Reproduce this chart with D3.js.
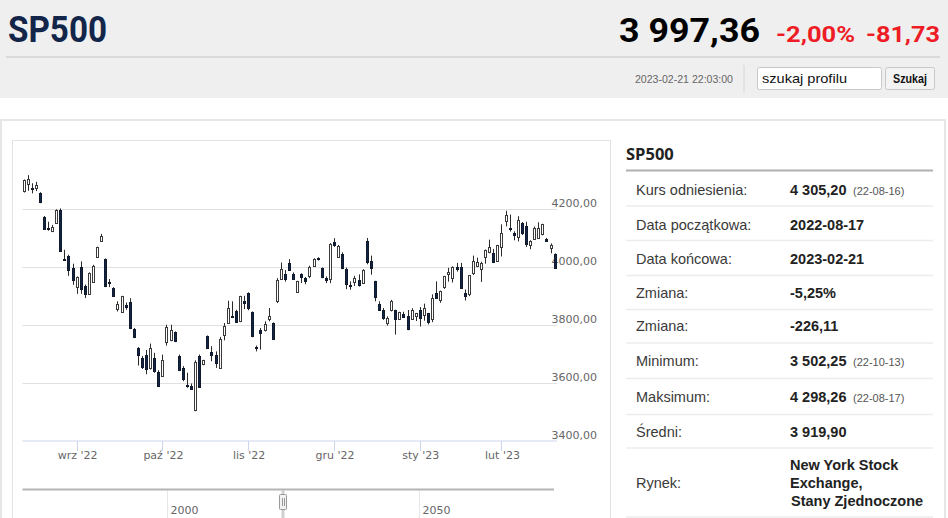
<!DOCTYPE html>
<html>
<head>
<meta charset="utf-8">
<title>SP500</title>
<script src="https://d3js.org/d3.v7.min.js"></script>
<style>
  html, body { margin: 0; padding: 0; background: #fff; overflow: hidden; }
  svg { display: block; }
</style>
</head>
<body>
<div id="page"></div>
<script>
// trading days shown in the main window
const dates = [
  '2022-08-15','2022-08-16','2022-08-17','2022-08-18','2022-08-19','2022-08-22','2022-08-23','2022-08-24','2022-08-25','2022-08-26',
  '2022-08-29','2022-08-30','2022-08-31','2022-09-01','2022-09-02','2022-09-06','2022-09-07','2022-09-08','2022-09-09','2022-09-12',
  '2022-09-13','2022-09-14','2022-09-15','2022-09-16','2022-09-19','2022-09-20','2022-09-21','2022-09-22','2022-09-23','2022-09-26',
  '2022-09-27','2022-09-28','2022-09-29','2022-09-30','2022-10-03','2022-10-04','2022-10-05','2022-10-06','2022-10-07','2022-10-10',
  '2022-10-11','2022-10-12','2022-10-13','2022-10-14','2022-10-17','2022-10-18','2022-10-19','2022-10-20','2022-10-21','2022-10-24',
  '2022-10-25','2022-10-26','2022-10-27','2022-10-28','2022-10-31','2022-11-01','2022-11-02','2022-11-03','2022-11-04','2022-11-07',
  '2022-11-08','2022-11-09','2022-11-10','2022-11-11','2022-11-14','2022-11-15','2022-11-16','2022-11-17','2022-11-18','2022-11-21',
  '2022-11-22','2022-11-23','2022-11-25','2022-11-28','2022-11-29','2022-11-30','2022-12-01','2022-12-02','2022-12-05','2022-12-06',
  '2022-12-07','2022-12-08','2022-12-09','2022-12-12','2022-12-13','2022-12-14','2022-12-15','2022-12-16','2022-12-19','2022-12-20',
  '2022-12-21','2022-12-22','2022-12-23','2022-12-27','2022-12-28','2022-12-29','2022-12-30','2023-01-03','2023-01-04','2023-01-05',
  '2023-01-06','2023-01-09','2023-01-10','2023-01-11','2023-01-12','2023-01-13','2023-01-17','2023-01-18','2023-01-19','2023-01-20',
  '2023-01-23','2023-01-24','2023-01-25','2023-01-26','2023-01-27','2023-01-30','2023-01-31','2023-02-01','2023-02-02','2023-02-03',
  '2023-02-06','2023-02-07','2023-02-08','2023-02-09','2023-02-10','2023-02-13','2023-02-14','2023-02-15','2023-02-16','2023-02-17',
  '2023-02-21'
];

const opens = [
  4261,4284,4274,4272,4255,4175,4134,4123,4152,4198, 4029,4039,3997,3933,4000,3936,3908,3951,4035,4092,
  4028,3949,3928,3855,3844,3869,3879,3787,3722,3686, 3697,3652,3686,3637,3623,3740,3750,3775,3694,3652,
  3594,3589,3506,3694,3663,3761,3706,3696,3652,3767, 3807,3832,3847,3813,3882,3910,3844,3723,3784,3784,
  3818,3807,3882,3959,3975,4016,3977,3914,3977,3961, 3970,4005,4030,3997,3962,3959,4086,4037,4046,3994,
  3937,3947,3954,3945,4090,4020,3951,3874,3853,3807, 3851,3851,3821,3839,3830,3821,3829,3853,3836,3840,
  3823,3910,3889,3932,3977,3960,3999,4002,3911,3909, 3978,4002,3996,4037,4054,4049,4021,4070,4158,4137,
  4119,4105,4153,4144,4075,4098,4102,4112,4098,4068, 4047
];
const highs = [
  4303,4318,4290,4295,4259,4177,4157,4146,4200,4203, 4060,4043,4012,3968,4020,3940,3982,4008,4071,4115,
  4030,3959,3931,3882,3901,3878,3893,3790,3724,3693, 3714,3736,3704,3644,3698,3801,3801,3778,3698,3658,
  3635,3598,3678,3698,3680,3764,3727,3709,3759,3807, 3884,3882,3853,3901,3901,3913,3847,3729,3790,3813,
  3859,3809,3962,4016,3990,4028,3982,3953,3979,3966, 4005,4031,4034,3999,3968,4083,4100,4077,4051,3999,
  3951,3970,3975,3993,4101,4040,3953,3882,3859,3830, 3887,3853,3846,3846,3852,3858,3842,3862,3874,3842,
  3906,3951,3919,3970,3998,4003,4015,4015,3923,3973, 4040,4033,4019,4061,4095,4063,4077,4148,4195,4182,
  4124,4176,4156,4157,4093,4140,4155,4150,4101,4082, 4048
];
const lows = [
  4258,4264,4255,4263,4221,4132,4126,4121,4150,4054, 4023,3970,3939,3908,3908,3893,3905,3948,4033,4090,
  3931,3931,3897,3847,3842,3853,3786,3755,3660,3648, 3630,3646,3635,3586,3621,3729,3744,3741,3641,3606,
  3583,3577,3502,3583,3661,3717,3675,3652,3651,3747, 3805,3824,3807,3810,3855,3851,3758,3709,3715,3778,
  3813,3750,3876,3956,3950,3989,3956,3913,3945,3941, 3962,4002,4023,3962,3945,3945,4070,4034,3993,3924,
  3922,3935,3933,3943,4010,3974,3882,3851,3818,3798, 3847,3767,3818,3825,3782,3818,3814,3795,3815,3802,
  3810,3890,3877,3925,3950,3947,3985,3926,3885,3900, 3973,4000,3949,4012,4048,4015,4021,4037,4141,4123,
  4093,4089,4111,4070,4062,4095,4098,4110,4087,4048, 3995
];
const closes = [
  4300,4303,4271,4284,4224,4134,4129,4138,4198,4057, 4026,3989,3954,3966,3924,3908,3979,4005,4069,4108,
  3933,3945,3899,3874,3899,3862,3790,3759,3697,3655, 3648,3721,3640,3589,3678,3793,3784,3744,3644,3614,
  3592,3579,3673,3586,3678,3721,3697,3667,3752,3798, 3859,3828,3810,3899,3874,3859,3761,3721,3775,3805,
  3830,3752,3956,3993,3959,3991,3959,3951,3966,3949, 4002,4028,4026,3966,3956,4080,4075,4074,3997,3941,
  3934,3962,3936,3991,4016,3997,3897,3853,3824,3824, 3882,3821,3844,3828,3784,3851,3840,3824,3860,3808,
  3895,3892,3919,3970,3983,3999,3991,3929,3899,3973, 4020,4017,4016,4060,4071,4018,4077,4119,4180,4136,
  4111,4164,4118,4082,4090,4137,4136,4148,4090,4078, 3997
];

const yTicks = [3400, 3600, 3800, 4000, 4200];
const monthKeys = ['2022-09', '2022-10', '2022-11', '2022-12', '2023-01', '2023-02'];
const monthLabels = ["wrz '22", "paź '22", "lis '22", "gru '22", "sty '23", "lut '23"];
const navLabels = ['2000', '2050'];

const statLabels = ['Kurs odniesienia:', 'Data początkowa:', 'Data końcowa:', 'Zmiana:', 'Zmiana:',
  'Minimum:', 'Maksimum:', 'Średni:'];
const statValues = ['4 305,20', '2022-08-17', '2023-02-21', '-5,25%', '-226,11',
  '3 502,25', '4 298,26', '3 919,90'];
const statDates = ['(22-08-16)', '', '', '', '', '(22-10-13)', '(22-08-17)', ''];
const marketLines = ['New York Stock', 'Exchange,', 'Stany Zjednoczone'];

const W = 948, H = 518;
const svg = d3.select('#page').append('svg').attr('width', W).attr('height', H);

// ---- header band
svg.append('rect').attr('width', W).attr('height', 98).attr('fill', '#efefef');
svg.append('text').text('SP500')
  .attr('x', 8).attr('y', 42)
  .attr('font-family', 'Roboto, "DejaVu Sans Condensed", sans-serif')
  .attr('font-weight', 700).attr('font-size', 37)
  .attr('textLength', 99).attr('lengthAdjust', 'spacingAndGlyphs')
  .attr('fill', '#13264a');

const quote = [
  { t: '3 997,36', x: 619, w: 141, size: 33, color: '#000' },
  { t: '-2,00%', x: 776, w: 79, size: 22, color: '#ee1c25' },
  { t: '-81,73', x: 866, w: 74, size: 22, color: '#ee1c25' }
];
svg.selectAll('text.quote').data(quote).join('text')
  .attr('class', 'quote')
  .attr('x', d => d.x).attr('y', 42)
  .attr('font-family', 'Roboto, "DejaVu Sans Condensed", sans-serif')
  .attr('font-weight', 700)
  .attr('font-size', d => d.size)
  .attr('textLength', d => d.w).attr('lengthAdjust', 'spacingAndGlyphs')
  .attr('fill', d => d.color)
  .text(d => d.t);

svg.append('line').attr('x1', 6).attr('x2', 940).attr('y1', 57).attr('y2', 57)
  .attr('stroke', '#d9d9d9').attr('stroke-width', 2);
svg.append('text').text('2023-02-21 22:03:00')
  .attr('x', 635).attr('y', 83)
  .attr('font-family', '"Liberation Sans", Arial, sans-serif').attr('font-size', 11)
  .attr('textLength', 98).attr('lengthAdjust', 'spacingAndGlyphs')
  .attr('fill', '#666');
svg.append('line').attr('x1', 744).attr('x2', 744).attr('y1', 65).attr('y2', 92)
  .attr('stroke', '#d6d6d6');
svg.append('rect').attr('x', 757.5).attr('y', 67.5).attr('width', 124).attr('height', 22)
  .attr('rx', 2).attr('fill', '#fff').attr('stroke', '#c8c8c8');
svg.append('text').text('szukaj profilu')
  .attr('x', 762).attr('y', 83)
  .attr('font-family', '"Liberation Sans", Arial, sans-serif').attr('font-size', 13)
  .attr('textLength', 85).attr('lengthAdjust', 'spacingAndGlyphs')
  .attr('fill', '#111');
svg.append('rect').attr('x', 885.5).attr('y', 67.5).attr('width', 49).attr('height', 22)
  .attr('rx', 2).attr('fill', '#f3f3f3').attr('stroke', '#c8c8c8');
svg.append('text').text('Szukaj')
  .attr('x', 910).attr('y', 83).attr('text-anchor', 'middle')
  .attr('font-family', '"Liberation Sans", Arial, sans-serif').attr('font-size', 13)
  .attr('font-weight', 700)
  .attr('textLength', 34).attr('lengthAdjust', 'spacingAndGlyphs')
  .attr('fill', '#111');

// ---- content frames
svg.append('rect').attr('x', 1).attr('y', 120).attr('width', 944).attr('height', 420)
  .attr('fill', '#fff').attr('stroke', '#e6e6e6').attr('stroke-width', 2);
svg.append('rect').attr('x', 12.5).attr('y', 140.5).attr('width', 598).attr('height', 400)
  .attr('fill', '#fff').attr('stroke', '#e3e3e3');

// ---- candlestick chart
const candles = dates.map((d, i) => ({
  date: d, open: opens[i], high: highs[i], low: lows[i], close: closes[i]
}));

const plotLeft = 22.5, plotRight = 557;
const x = d3.scaleLinear().domain([0, dates.length - 1]).range([23.5, 554.6]);
const y = d3.scaleLinear().domain([3400, 4200]).range([440.8, 209.3]);
const axisFont = '"DejaVu Sans", Verdana, sans-serif';

const grid = svg.append('g');
grid.selectAll('line').data(yTicks.filter(v => v > 3400)).join('line')
  .attr('x1', plotLeft).attr('x2', plotRight)
  .attr('y1', d => Math.round(y(d)) + 0.5).attr('y2', d => Math.round(y(d)) + 0.5)
  .attr('stroke', '#e0e0e0');

const fmt = v => d3.format('.2f')(v).replace('.', ',');
svg.append('g').selectAll('text').data(yTicks).join('text')
  .attr('x', 597).attr('y', d => y(d) - 2)
  .attr('text-anchor', 'end')
  .attr('font-family', axisFont).attr('font-size', 11)
  .attr('fill', '#666')
  .text(fmt);

// x axis
const tickIdx = monthKeys.map(m => dates.findIndex(d => d.startsWith(m)));
const xAxis = svg.append('g');
xAxis.append('line').attr('x1', plotLeft).attr('x2', plotRight)
  .attr('y1', 441).attr('y2', 441).attr('stroke', '#ccd6eb');
xAxis.selectAll('line.tick').data(tickIdx).join('line')
  .attr('class', 'tick')
  .attr('x1', d => Math.round(x(d)) + 0.5).attr('x2', d => Math.round(x(d)) + 0.5)
  .attr('y1', 441).attr('y2', 451).attr('stroke', '#ccd6eb');
xAxis.selectAll('text').data(tickIdx).join('text')
  .attr('x', d => x(d) + 1).attr('y', 459)
  .attr('text-anchor', 'middle')
  .attr('font-family', axisFont).attr('font-size', 11)
  .attr('fill', '#666')
  .text((d, i) => monthLabels[i]);

svg.append('clipPath').attr('id', 'plot-clip')
  .append('rect').attr('x', plotLeft).attr('y', 150)
  .attr('width', plotRight - plotLeft).attr('height', 291);

const candleG = svg.append('g').attr('clip-path', 'url(#plot-clip)');
// pixel-snapped centre so bodies and wicks stay crisp
const cx = i => Math.round(x(i));

candleG.selectAll('line.wick').data(candles).join('line')
  .attr('class', 'wick')
  .attr('x1', (d, i) => cx(i) + 0.5).attr('x2', (d, i) => cx(i) + 0.5)
  .attr('y1', d => y(d.high)).attr('y2', d => y(d.low))
  .attr('stroke', '#2b2b2b').attr('stroke-width', 1);

candleG.selectAll('rect.body').data(candles).join('rect')
  .attr('class', 'body')
  .attr('x', (d, i) => cx(i) - 0.5)
  .attr('width', 2)
  .attr('y', d => Math.round(y(Math.max(d.open, d.close))) + 0.5)
  .attr('height', d => Math.max(1, Math.round(Math.abs(y(d.open) - y(d.close)))))
  .attr('fill', d => d.close >= d.open ? '#ffffff' : '#0f2446')
  .attr('stroke', d => d.close >= d.open ? '#3a3a3a' : '#111a2a')
  .attr('stroke-width', 1);

// ---- navigator strip
const nav = svg.append('g');
nav.append('line').attr('x1', plotLeft).attr('x2', 554)
  .attr('y1', 489.5).attr('y2', 489.5).attr('stroke', '#b4b4b4').attr('stroke-width', 2);
const navX = [167.5, 419.5];
nav.selectAll('line.ng').data(navX).join('line')
  .attr('class', 'ng')
  .attr('x1', d => d).attr('x2', d => d).attr('y1', 491).attr('y2', H)
  .attr('stroke', '#e6e6e6');
nav.selectAll('text').data(navLabels).join('text')
  .attr('x', (d, i) => navX[i] + 3).attr('y', 514)
  .attr('font-family', axisFont).attr('font-size', 11).attr('fill', '#666')
  .text(d => d);
nav.append('line').attr('x1', 283).attr('x2', 283).attr('y1', 490).attr('y2', H)
  .attr('stroke', '#cfcfcf').attr('stroke-width', 3);
nav.append('rect').attr('x', 279.5).attr('y', 494.5).attr('width', 7).attr('height', 15)
  .attr('rx', 1).attr('fill', '#f2f2f2').attr('stroke', '#999');
nav.selectAll('line.grip').data([282, 284]).join('line')
  .attr('class', 'grip')
  .attr('x1', d => d + 0.5).attr('x2', d => d + 0.5).attr('y1', 498).attr('y2', 506)
  .attr('stroke', '#999');

// ---- statistics panel
const panelFont = '"Liberation Sans", Arial, sans-serif';
svg.append('text').text('SP500')
  .attr('x', 626).attr('y', 160)
  .attr('font-family', '"Open Sans", "Noto Sans", sans-serif')
  .attr('font-weight', 700).attr('font-size', 16.5)
  .attr('fill', '#222');
svg.append('line').attr('x1', 626).attr('x2', 933).attr('y1', 170.5).attr('y2', 170.5)
  .attr('stroke', '#b0b0b0').attr('stroke-width', 2);

const rowY = [190, 224.5, 258.5, 292.5, 326, 361, 397, 431.5];
const sepY = [206, 240.5, 275.5, 309.5, 343, 378.5, 414.5, 448, 517];

svg.append('g').selectAll('line').data(sepY).join('line')
  .attr('x1', 626).attr('x2', 933).attr('y1', d => d).attr('y2', d => d)
  .attr('stroke', '#ececec').attr('stroke-width', 1.5);

const rows = svg.append('g').selectAll('g').data(statLabels).join('g');
rows.append('text')
  .attr('x', 636).attr('y', (d, i) => rowY[i] + 5)
  .attr('font-family', panelFont).attr('font-size', 14.5).attr('fill', '#3a3a3a')
  .text(d => d);
rows.append('text')
  .attr('x', 790).attr('y', (d, i) => rowY[i] + 5)
  .attr('font-family', panelFont).attr('font-size', 14.5).attr('font-weight', 700)
  .attr('fill', '#222')
  .text((d, i) => statValues[i]);
rows.append('text')
  .attr('x', 853).attr('y', (d, i) => rowY[i] + 5)
  .attr('font-family', panelFont).attr('font-size', 11).attr('fill', '#555')
  .text((d, i) => statDates[i]);

svg.append('text').text('Rynek:')
  .attr('x', 636).attr('y', 488)
  .attr('font-family', panelFont).attr('font-size', 14.5).attr('fill', '#3a3a3a');
svg.append('g').selectAll('text').data(marketLines).join('text')
  .attr('x', (d, i) => i === 2 ? 791 : 790)
  .attr('y', (d, i) => 470 + i * 18)
  .attr('font-family', panelFont).attr('font-size', 14.5).attr('font-weight', 700)
  .attr('fill', '#222')
  .text(d => d);
</script>
</body>
</html>
